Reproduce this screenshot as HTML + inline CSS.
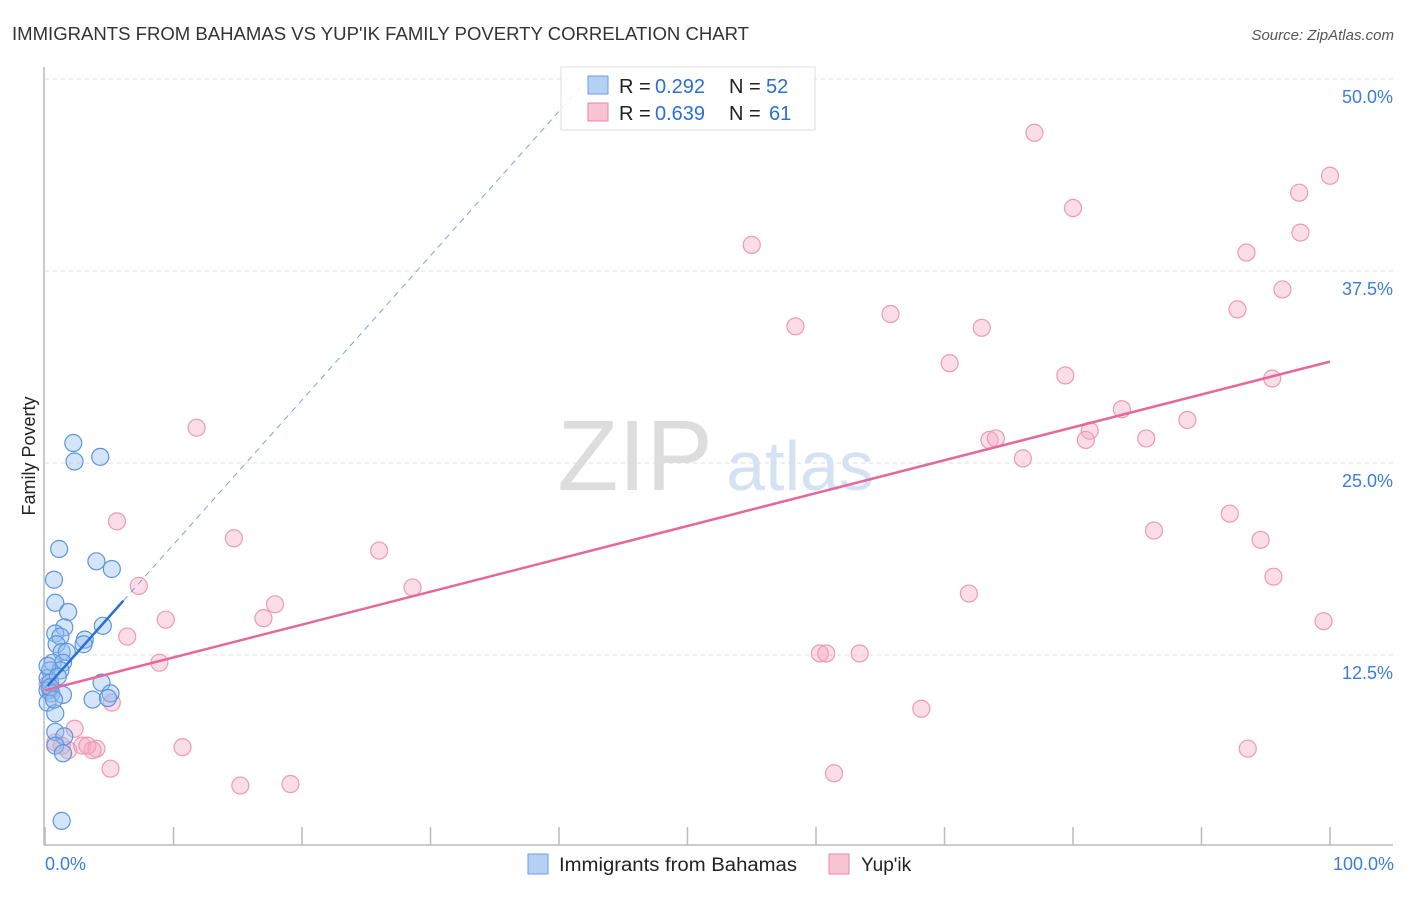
<!DOCTYPE html>
<html><head><meta charset="utf-8"><style>
body{margin:0;background:#fff;font-family:"Liberation Sans",sans-serif}
svg text{font-family:"Liberation Sans",sans-serif}
</style></head><body>
<svg id="c" width="1406" height="892" xmlns="http://www.w3.org/2000/svg">
<text x="12" y="40" font-size="18" fill="#333" textLength="737" lengthAdjust="spacingAndGlyphs">IMMIGRANTS FROM BAHAMAS VS YUP'IK FAMILY POVERTY CORRELATION CHART</text>
<text x="1394" y="40" font-size="15" fill="#555" font-style="italic" text-anchor="end">Source: ZipAtlas.com</text>
<text x="35" y="456" font-size="18" fill="#222" text-anchor="middle" transform="rotate(-90 35 456)">Family Poverty</text>
<text x="635" y="490" font-size="100" fill="#ddd" font-family="Liberation Serif" text-anchor="middle">ZIP</text>
<text x="800" y="490" font-size="70" fill="#d5e2f3" text-anchor="middle">atlas</text>
<g id="grid"></g><g id="marks"></g>
<g>
<rect x="561" y="67" width="254" height="63" fill="#fff" fill-opacity="0.85" stroke="#ddd"/>
<rect x="588" y="76" width="20" height="18" fill="#b5d0f3" stroke="#6a9ee0"/>
<rect x="588" y="103" width="20" height="18" fill="#f8c3d3" stroke="#e887a6"/>
<text x="619" y="93" font-size="20" fill="#222">R =</text>
<text x="655" y="93" font-size="20" fill="#2a6fd6">0.292</text>
<text x="729" y="93" font-size="20" fill="#222">N =</text>
<text x="766" y="93" font-size="20" fill="#2a6fd6">52</text>
<text x="619" y="120" font-size="20" fill="#222">R =</text>
<text x="655" y="120" font-size="20" fill="#2a6fd6">0.639</text>
<text x="729" y="120" font-size="20" fill="#222">N =</text>
<text x="769" y="120" font-size="20" fill="#2a6fd6">61</text>
</g>
<g>
<rect x="528" y="854" width="20" height="20" fill="#b5d0f3" stroke="#6a9ee0"/>
<text x="559" y="871" font-size="19" fill="#222" textLength="238" lengthAdjust="spacingAndGlyphs">Immigrants from Bahamas</text>
<rect x="829" y="854" width="20" height="20" fill="#f8c3d3" stroke="#e887a6"/>
<text x="861" y="871" font-size="19" fill="#222">Yup'ik</text>
</g>
</svg>
<script>
const yTicks=[12.5,25,37.5,50];
const yTickLabels=["12.5%","25.0%","37.5%","50.0%"];
const xTicks=[0,10,20,30,40,50,60,70,80,90,100];
const xLabels=["0.0%","100.0%"];
const blueX=[2.2,2.3,4.3,1.1,0.7,4.0,5.2,0.8,1.8,4.5,1.5,0.8,1.2,3.1,3.0,0.9,1.3,1.7,0.6,1.4,0.4,1.2,0.2,0.4,0.2,0.5,1.4,4.4,5.1,3.7,4.9,0.2,0.8,0.8,1.5,0.8,1.4,1.3,0.2,1.0,0.4,0.7];
const blueY=[26.3,25.1,25.4,19.4,17.4,18.6,18.1,15.9,15.3,14.4,14.3,13.9,13.7,13.5,13.2,13.2,12.7,12.7,12.0,12.0,11.5,11.5,11.0,10.7,10.2,10.0,9.9,10.7,10.0,9.6,9.7,9.4,8.7,7.5,7.2,6.6,6.1,1.7,11.8,11.1,10.4,9.6];
const pinkX=[77.0,100,97.6,80.0,97.7,55.0,93.5,96.3,92.8,58.4,65.8,72.9,70.4,79.4,95.5,83.8,88.9,11.8,81.3,81.0,73.5,74.0,85.7,76.1,5.6,92.2,86.3,94.6,14.7,26.0,95.6,7.3,28.6,71.9,17.9,9.4,17.0,99.5,6.4,60.3,60.8,63.4,8.9,5.2,68.2,2.3,0.8,1.8,2.9,4.0,3.7,10.7,93.6,5.1,61.4,15.2,19.1,1.3,0.4,0.2,3.3];
const pinkY=[46.5,43.7,42.6,41.6,40.0,39.2,38.7,36.3,35.0,33.9,34.7,33.8,31.5,30.7,30.5,28.5,27.8,27.3,27.1,26.5,26.5,26.6,26.6,25.3,21.2,21.7,20.6,20.0,20.1,19.3,17.6,17.0,16.9,16.5,15.8,14.8,14.9,14.7,13.7,12.6,12.6,12.6,12.0,9.4,9.0,7.7,6.8,6.3,6.6,6.4,6.3,6.5,6.4,5.1,4.8,4.0,4.1,6.6,10.2,10.6,6.6];
const blueFit=[10.3,0.94];
const pinkFit=[10.2,0.214];
const NS="http://www.w3.org/2000/svg";
const X=v=>45+v*12.85, Y=v=>847-v*15.36;
function mk(t,a,p){const e=document.createElementNS(NS,t);for(const k in a)e.setAttribute(k,a[k]);p.appendChild(e);return e;}
const g=document.getElementById('grid'), m=document.getElementById('marks');
let ax=mk('line',{x1:44,y1:67,x2:44,y2:845,stroke:'#bbb','stroke-width':1.5},g);


let bx=mk('line',{x1:44,y1:845,x2:1393,y2:845,stroke:'#bbb','stroke-width':1.5},g);


yTicks.forEach((v,i)=>{
 const l=mk('line',{x1:45,x2:1393,y1:Y(v),y2:Y(v),stroke:'#ddd','stroke-dasharray':'4,4'},g);
 
 
 const t=mk('text',{x:1393,y:Y(v)+24,'font-size':18,fill:'#3b7ddd','text-anchor':'end'},g);
 t.textContent=yTickLabels[i];
 
 
});
xTicks.forEach(v=>{
 const l=mk('line',{x1:X(v),x2:X(v),y1:827,y2:845,stroke:'#bbb','stroke-width':1.5},g);
 
 
});
[[0,xLabels[0],'start'],[100,xLabels[1],'end']].forEach(([v,s,a])=>{
 const t=mk('text',{x:v==0?45:1394,y:870,'font-size':18,fill:'#3b7ddd','text-anchor':a},g);
 t.textContent=s;
 
 
});
pinkX.forEach((x,i)=>{
 const c=mk('circle',{cx:X(x),cy:Y(pinkY[i]),r:8.5,fill:'rgba(246,170,195,0.4)',stroke:'#eb9ab4','stroke-width':1.2},m);
 
 
});
blueX.forEach((x,i)=>{
 const c=mk('circle',{cx:X(x),cy:Y(blueY[i]),r:8.5,fill:'rgba(150,190,240,0.4)',stroke:'#5d95dc','stroke-width':1.2},m);
 
 
});
const xe=(50-blueFit[0])/blueFit[1];
let d=mk('line',{x1:X(6.1),y1:Y(blueFit[0]+blueFit[1]*6.1),x2:X(xe),y2:Y(50),stroke:'#7aa3dd','stroke-width':1,'stroke-dasharray':'6,5'},m);


let b=mk('line',{x1:X(0.2),y1:Y(blueFit[0]+blueFit[1]*0.2),x2:X(6.1),y2:Y(blueFit[0]+blueFit[1]*6.1),stroke:'#2a6fd6','stroke-width':2.5},m);


let p=mk('line',{x1:X(0),y1:Y(pinkFit[0]),x2:X(100),y2:Y(pinkFit[0]+pinkFit[1]*100),stroke:'#e5689a','stroke-width':2.5},m);


</script>
</body></html>
